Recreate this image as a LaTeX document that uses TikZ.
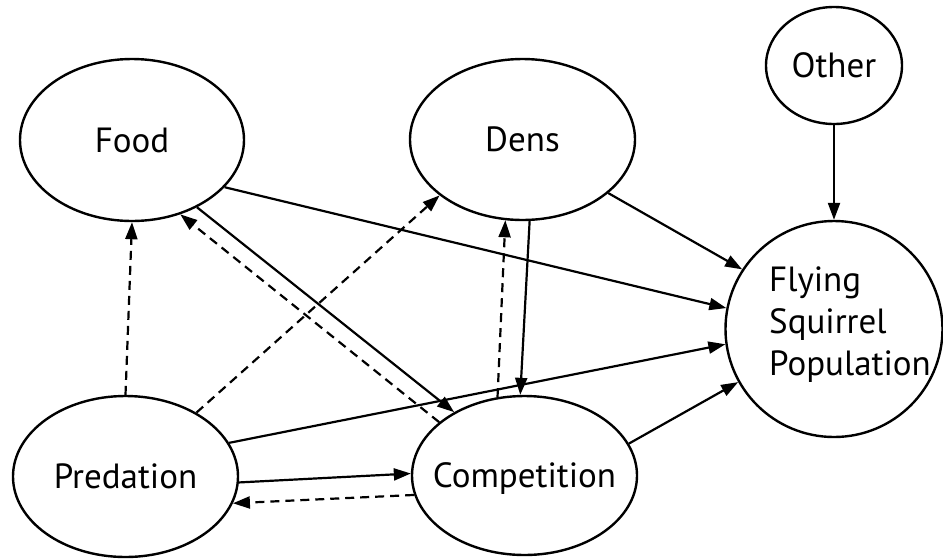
\documentclass[tikz,border=0pt]{standalone}
\usepackage{fontspec}
\setmainfont{PT Sans}
\usetikzlibrary{shapes.geometric,arrows.meta}

\tikzset{
  factor/.style={ellipse, draw, line width=2.4pt, inner sep=0pt},
  every label/.append style={font=\fontsize{35}{42}\selectfont, text depth=0pt},
  link/.style={line width=2.2pt, -{Triangle[length=17pt,width=12pt]}},
  weak/.style={link, dash pattern=on 9pt off 6pt},
}

\begin{document}
\begin{tikzpicture}[x=1pt, y=-1pt]
  \useasboundingbox (0,0) rectangle (943,558);

  % factors
  \node[factor, minimum width=224pt, minimum height=162pt, label=center:Food] (food) at (132,140) {};
  \node[factor, minimum width=225pt, minimum height=161pt, label=center:Dens] (dens) at (522.5,139.5) {};
  \node[factor, minimum width=136pt, minimum height=117pt, label=center:Other] (other) at (834,65.5) {};
  \node[factor, minimum width=217pt, minimum height=216pt] (pop) at (834,329) {};
  \node[factor, minimum width=225pt, minimum height=161pt, label=center:Predation] (pred) at (125.5,476.5) {};
  \node[factor, minimum width=225pt, minimum height=159pt, label=center:Competition] (comp) at (524.5,475.5) {};
  \node[anchor=west, align=left, inner sep=0pt, font=\fontsize{35}{42}\selectfont] (poptext) at (769,324.5) {Flying\\Squirrel\\Population};

  % direct effects on the population
  \draw[link] (other.south) -- (pop.north);
  \draw[link] (food.-27.6) -- (pop.169.5);
  \draw[link] (dens.-32.3) -- (pop.147.8);
  \draw[link] (pred.18.8) -- (pop.188.3);
  \draw[link] (comp.17.9) -- (pop.209.6);

  % interactions among factors
  \draw[link] (dens.-85.4) -- (comp.93.9);
  \draw[weak] (comp.109.3) -- (dens.-102.1);
  \draw[link] (food.-46.8) -- (comp.138.8);
  \draw[weak] (comp.148) -- (food.-57.4);
  \draw[weak] (pred.north) -- (food.south);
  \draw[weak] (pred.42.4) -- (dens.214.9);
  \draw[link] (pred.-3.3) -- (comp.179.2);
  \draw[weak] (comp.190.1) -- (pred.-14.8);
\end{tikzpicture}
\end{document}
